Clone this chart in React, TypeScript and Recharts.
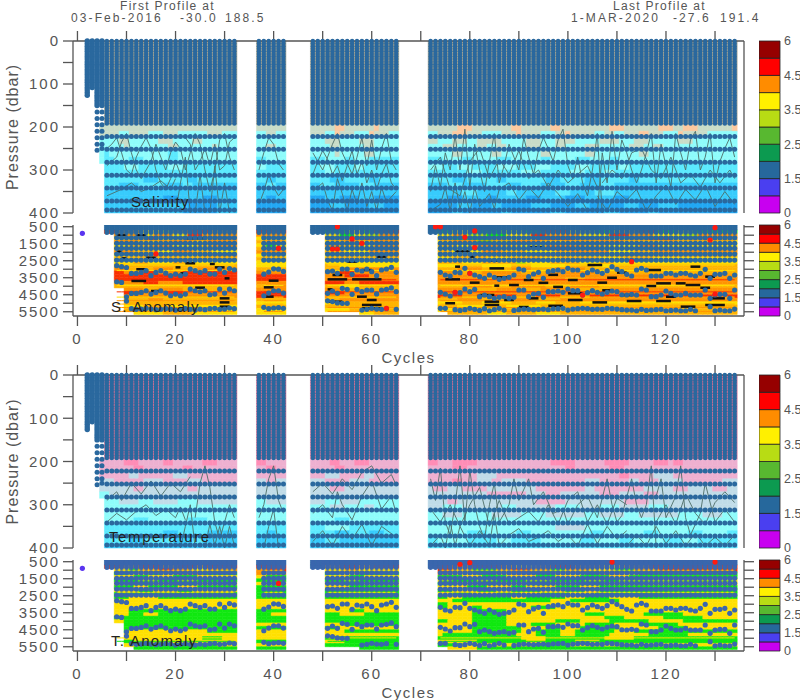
import React from 'react';
import { Bar, BarChart, Cell, ComposedChart, Line, XAxis, YAxis } from 'recharts';

const FONT = '"Liberation Sans", Arial, sans-serif';
const INK = '#555';

// profile blocks (first and last cycle of each run of profiles)
const blocks = [[5, 32], [37, 42], [48, 65], [72, 134]];
const cycles = Array.from({ length: 136 }, (_, i) => i);
const cycleTicks = [0, 10, 20, 30, 40, 50, 60, 70, 80, 90, 100, 110, 120, 130];

const shallowTicks = [0, 50, 100, 150, 200, 250, 300, 350, 400];
const deepTicks = [500, 1000, 1500, 2000, 2500, 3000, 3500, 4000, 4500, 5000, 5500];

const colorbarColors = ['#c800f0', '#4a3ff0', '#26689c', '#0c9a50', '#58b830', '#b8dc14', '#fff000', '#ff8c00', '#ff0000', '#960000'];
const colorbarLabels = ['0', '1.5', '2.5', '3.5', '4.5', '6'];

const shallowPalette: Record<string, string> = {
  u: '#9a9c8c', a: '#c9dcc8', p: '#fdc99f', c: '#8ffcfb', d: '#5ceafe', e: '#38ccfc', f: '#22a8f4',
};
const tempPalette: Record<string, string> = {
  u: '#c4688f', p: '#ff8db6', l: '#eeb0d0', q: '#c0dce8', c: '#8ffcfb', d: '#5ceafe', e: '#38ccfc', f: '#22a8f4',
};
const deepPalette: Record<string, string> = {
  b: '#2e6da4', r: '#f83000', o: '#ff9400', O: '#ffb400', y: '#ffe000', g: '#10e810', n: '#b8e000',
};

// depth bands of the gridded fields, dbar
const shallowEdges = [0, 195, 210, 225, 240, 255, 270, 285, 300, 315, 330, 345, 360, 375, 390, 400];
const deepEdges = [0, 400, 700, 900, 1100, 1300, 1500, 1700, 1900, 2100, 2300, 2500, 2700, 2900, 3100, 3300, 3500, 3700, 3900, 4100, 4300, 4500, 4700, 4900, 5100, 5300, 5500, 5660];

// one row per band, one run list per block: letter = colour class, number = cycles
const salinityRows = [
  '.1u|u|u|u',
  'a|a|a5p2a6p1a|a6p3a8p2a6p2a10p3a7p3a2p3a7p2',
  'a4c2a4c3a3c6a3c|c2a2c|a3c2p1a3c3p1a3c|c2a3p3a3c4a3p1a4c3a2p1a5c2a2c2a3p2a3c3p1a5c3',
  'c4a2c6a3c4a2c|c|c3a3c4a3c|a2c3a3c2a5c5a3c3a4c5a4c3a3c6a3c3',
  'c5a1c8a2c7a1c|c2a2c|c4a2c5a2c|c3a3c4a2c2a2c4a3c3a2c4a3c6a3c2a2c',
  'c1d1c12d2c|c|c5a1c5a2c|c5a2c6a2c8a2c7a2c9a2c',
  'c1d2c3d3c5d2c|d2c|d3c4d2c3d|d3c4d2c5d3c6d2c5d3c4d2c5',
  '.1d4c3d6c3d|c2d|d2c3d4c2d|c3d3c3d5c4d4c3d5c3d6c2d',
  '.1d|d|d3c2d|d8c3d8c4d6c3d4c2d',
  '.1d8e3d6e2d|d2e2d|d4e3d5e2d|d5e3d6e2d8e3d5e3d6e2d',
  '.1d3e4d5e4d2e|e2d2e|e2d3e5d3e|e4d3e5d4e3d4e5d3e4d3e',
  '.1e|e|e|e7d3e6d2e8d3e5d4e',
  '.1e12f3e5f3e|e2f2e|f3e3f4e3f|e4f3e5f2e6f3e5f4e6f3e',
  '.1e17f6e|f|f4e3f5e3f|f6e3f4e2f6e4f5e3f7e3f4e4f',
  '.1e16f7e|f|f|f5e2f8e2f8e3f8e3f6e2f',
];

const temperatureRows = [
  '.1u|u|u|u',
  'l5p3l5p2l6p3l|p2l|l4p2l3p3l|p2l3p5l15p5l6p5l5p3l1p2l',
  'l7p2l8p2l|l2p2l|l5p2l|l5p3l20p2l7p3l',
  'l6q2l7q3l|l|l3q3l5q2l|l10q4l25p2l5q4l',
  'q3l6q4l5q3l|q2l2q|q3l5q4l|l5p2l3q3l2q5l12q3l6q2l4q5l8q3l',
  'q7l2q9l2q|q|q4l3q|q1l3q3l5q10l10q2l10q6l3q5l3q',
  'c2q|q|q|q12l8q4l3q8l4q5l3q',
  '.1c3q4c3q5c4q|c2q|q3c3q4c|q4l2q16l6q12l5q',
  '.1c|c|c4q3c4q2c|q3c4q8c3q8c5q4c4q6c4q',
  '.1c|c|c|c3q4c6q6c5q8c3q5c3q8c5q4c',
  '.1c6d3c8d4c|c|c5d3c|c',
  '.1d|d|d3c5d|c26q6c',
  '.1d12e3d6e|d2e2d|d5e3d4e3d|c8d4c6d3c12d3c8d3c6d3c5d',
  '.1d5e3d6e4d2e|e|e3d3e|d2c6d6c3d6c8d3c5d3c6d4c3d',
  '.1e|e|e|d',
];

const sAnomalyRows = [
  '.|.|.|.',
  '.1b|b|b|b',
  '.1r3o5y4n2o3r5o|r|b3g5y3g2r|b2g3y4g6n5g3r6y5g4o5r4g4n3g',
  '.3o5y3o4y3r3o|o|.3y3g3y2n3o|.2y3o3n4g4y5r3o7y6r4o5y6n3o',
  '.3y4o3r2y5o3y2o|y|.3o4y3r3o|.2o3g4g4o3y6r8o6y5o4r5y3o',
  '.3o5y4O3o4y3o|O|.3y4o3y3o|.2y3o5g3n4o6y5O7o5y8O3y',
  '.3y3O5o4y5O3o|y2g2y|.3o3O5y2o|.2O4y3o6O4y5o8O5y6o4y',
  '.3O4y3o5O5y2O|O|.3y5O3o|.2y5O4o3y7O3r6o5y7O3o',
  '.3o4O5y3o4O4y|o|.3O4y5o|.2O3y6o4O5y6O3o8y5O4o',
  '.3y5o3O6y4o|y|.3y3O3y4o|.2y5o4O6y4o7O5y6o3O',
  '.3O|O|.3O|.2y3O7y5O6y4O8y5O6y',
  '.3y4O3y5O4y|y|.3y|.2O5y4O7n2y5O6y4O3y',
  '.3O|y|.3O3y|.2y4O5y6O4y7O6y4O',
  '.3o3O5o4O5o|O|.3O5o|.2O4o5O6o4O5o6O',
  '.3r2o4r3o5r|o|.3o3r3o|.2o5O4o8O5o10O',
  '.3r|r|.3o4r5o|.2o',
  '.3r|r|.3o|.2o8O4o6O3o5O4o',
  '.3o6r3o5r|o|.3r4o3r|.2o',
  '.3O|O2o|.3O3y4O|.2O5o6O4o7O5o6O',
  '.5o4O3o5O|o|.3o3O|.2o5O7o4O5o8O6o',
  '.5r4o5r3o|r|.3r4o|.2o',
  '.5o|r|.3o|.2r5o3r8o4r5o6r',
  '.5O5o3O|O|.3O3o|.2O4o5O6o4O6o',
  '.5O|y|.3y4O|.2y5O4y6O5y4O5y',
  '.5y4O5y|O|.3O|.2O4y6O4y7O',
  '.5O5y|y|.3y5O|.2y3O5y6O8y5O',
  '.7y6O6y|y|.10y3O|.4O8y4O6y5O',
];

const tAnomalyRows = [
  '.|.|.|.',
  '.1b|b|b|b',
  '.1r4o3r5o3r4o2r|r|b3o3r4o3r|b2r3o4r6o3y4o3r5o6y3o6r',
  '.3y3g2o4r3o4y3o|o2r|.3y4o3y|.2r3o4g5o3r4o4g3o5y5g4o5r',
  '.3g3y4g3y3o5g|o|.3g3y4g|.2o3y5g4y3o5g4y6g3o5y3g',
  '.3y4g3y5g5y|y2g|.3y5g3y|.2g5y4g5y6g4y5g6y4g',
  '.3g5y4g4y4g|g|.3g4y3g|.2y3g5y4g6y5g7y4g3y',
  '.3y3g5y4g5y|y|.3y3g5y|.2g4y5g3y7g4y6g5y',
  '.3g4y3g6y4g|g|.3y5g|.2y6g4y5g3y6g5y4g',
  '.3y5g3y5g3y|g|.3g|.2g3y5g4y3g6y5g4y3g',
  '.3g|g|.3g|.2y3g4y5g5y4g6y5g',
  '.3g3y6g|g|.3g|.2g2y3g10y3g8y4g5y6g',
  '.3y|y|.3y|.2y3g20y4g10y',
  '.3y|y|.3y|.2g2y',
  '.3y|y|.3y|.2g2y5g2y10g5y',
  '.3y3g|g|.3y5g3y|.2y7g7y',
  '.3y3g3y3g|g3y|.3g3y5g|.2y7g7y16g4y8g8y',
  '.3g|g|.3g|.2y7g7y20g4y8g8y',
  '.3y2g|g|.3g|.2g2y5g7y10g5y6g8y7g',
  '.5g|y|.3y4g|.2y7g7y5g5y6g6y5g8y',
  '.5g|g|.3g3y|.2y7g10y5g3y4g8y8g6y',
  '.5g1y16g|y|.3y4g|.2y7g10y3g5y3g8y4g',
  '.5y|y|.3y|.2y1g15y4g5y3g7y8g8y',
  '.5y16g4y|y|.3g|.2g17y5g12y6g',
  '.5g2y|g|.3y4g|.2y8g10y4g6y5g',
  '.5y3g16y|y|.3g|.2g5y15g7y',
  '.7g|g|.10g|.4y6g',
];

// dot levels of the CTD sampling, dbar
const topLevels = [0, 6, 12, 18, 24, 30, 36, 42, 48, 54, 60, 66, 72, 78, 84, 90, 96, 102, 108, 114, 120, 126, 132, 138, 144, 150, 156, 162, 168, 174, 180, 186, 192];
const lowLevels = [222, 252, 282, 312, 342, 372, 393];
const stripLevels = [450, 550, 650, 750, 850];
const midLevels = [1150, 1480, 1770, 2110, 2460];
const firstCycleDepth: Record<number, number> = { 2: 126, 3: 108, 4: 150, 5: 150 };

const deepCycles = [8, 9, 10, 11, 12, 13, 14, 15, 16, 17, 18, 19, 20, 21, 22, 23, 24, 25, 26, 27, 28, 29, 30, 31, 32,
  38, 39, 40, 41, 42,
  51, 52, 53, 54, 55, 56, 57, 58, 59, 60, 61, 62, 63, 64, 65,
  74, 75, 76, 77, 78, 79, 80, 81, 82, 83, 84, 85, 86, 87, 88, 89, 90, 91, 92, 93, 94, 95, 96, 97, 98, 99, 100, 101, 102, 103, 104, 105, 106, 107, 108, 109, 110, 111, 112, 113, 114, 115, 116, 117, 118, 119, 120, 121, 122, 123, 124, 125, 126, 127, 128, 129, 130, 131, 132, 133, 134];

const deepRow1 = [2794, 2850, 2900, 3246, 3246, 3186, 3088, 3382, 3186, 3088, 3230, 3382, 3284, 3382, 3284, 2990, 3088, 3186, 3088, 3284, 3284, 2990, 3186, 2960, 3040,
  3290, 3170, 2975, 2995, 3130,
  3144, 3105, 3242, 2987, 2987, 3301, 3046, 3105, 2987, 3144, 3379, 3046, 2987, 2889, 3183,
  3183, 3340, 3399, 3183, 3203, 2948, 3242, 3340, 3438, 3536, 3340, 3477, 3595, 3536, 3477, 3340, 2987, 3046, 3438, 3281, 3183, 3536, 3144, 3085, 3046, 3144, 2948, 3046, 3046, 3340, 3203, 3046, 3144, 3242, 3085,
  2850, 3007, 3144, 3301, 3399, 3046, 2948, 3046, 3399, 3399, 3399, 3242, 3242, 3340, 3242, 3242, 3340, 3399, 3242, 3007, 3536, 3301, 3301, 3242, 3536, 3340];
const deepRow2 = [3735, 3775, 4618, 4422, 4422, 4363, 4265, 4461, 4363, 4265, 4402, 4559, 4461, 4559, 4461, 4167, 4265, 4324, 4265, 4500, 4461, 4167, 4402, 4167, 4265,
  4559, 4402, 4265, 4265, 4402,
  4418, 4281, 4418, 4124, 4183, 4477, 4183, 4320, 4222, 4222, 4450, 4222, 4183, 4100, 4320,
  4359, 4457, 4575, 4379, 4379, 4163, 4320, 4183, 4614, 4516, 4614, 4712, 4653, 4614, 4712, 4653, 4222, 4222, 4614, 4457, 4418, 4653, 4320, 4320, 4280, 4359, 4163, 4261, 4261, 4516, 4379, 4261, 4359, 4457, 4359,
  4281, 4320, 4500, 4516, 4477, 4516, 4163, 4222, 4614, 4614, 4516, 4281, 4418, 4516, 4516, 4418, 4516, 4516, 4516, 4222, 4712, 4516, 4477, 4477, 4712, 4222];
const deepRow3 = [null, null, 4875, 5320, 5360, 5340, 5300, 5340, 5380, 5360, 5320, 5340, 5400, 5360, 5320, 5360, 5400, 5340, 5380, 5320, 5300, 5360, 5340, 5280, 5320,
  5240, 5320, 5280, 5260, 5300,
  4860, 4900, 4980, 5006, 5006, null, null, 5400, 5359, 5300, 5340, 5359, 5320, null, 5359,
  5300, 5300, null, 5380, 5420, 5380, 5300, 5360, 5420, 5320, 5440, 5380, 5300, 5400, null, 5420, 5380, 5340, 5360, 5380, 5360, 5340, 5380, 5330, 5320, 5300, 5400, 5340, 5320, 5300, 5320, 5360, 5340, 5360, 5300, 5320, 5340, 5380, 5400, 5400, 5440, 5360, 5420, 5400, 5380, 5360, 5440, 5420, 5400, 5440, 5440, 5360, 5440, null, null, 5200, 5440, 5400, 5440, 5440, 5340];

const redDots: [number, number][] = [[16, 2100], [79, 1125], [81, 750], [81, 1730], [80, 3240], [77, 4360], [103, 4520], [53, 500], [56, 1220], [58, 1478], [52, 1810], [53, 1810], [41, 1770], [63, 5300], [113, 2556], [130, 557], [129, 1282], [130, 4457], [73, 500], [74, 500]];
const tRedDots: [number, number][] = [[41, 1776], [78, 650], [80, 560], [109, 520], [130, 520]];
const lostProfile: [number, number] = [1, 890];

// thin stripes of the anomaly fields: pressure, class
const sStripes: [number, string][] = [[1330, 'o'], [2260, 'O'], [2750, 'y'], [3080, 'y'], [3620, 'r'], [3950, 'y'], [4330, 'r'], [4640, 'y'], [4850, 'o'], [5050, 'O'], [5250, 'o'], [5480, 'o']];
const tStripes: [number, string][] = [[1000, 'y'], [1640, 'g'], [2300, 'y'], [4980, 'y'], [5180, 'g']];

// black streaks in the salinity anomaly: pressure, first cycle, last cycle
const streaks = [
  [988, 8, 10], [1000, 12, 14], [2320, 14, 16], [3000, 12, 14], [3690, 11, 14], [4280, 15, 17], [2890, 20, 21], [3240, 21, 22], [4085, 24, 26], [2650, 22, 24], [2690, 27, 28], [2890, 28, 30], [3536, 30, 31], [4712, 29, 31], [4950, 29, 31], [5200, 29, 31], [5400, 13, 14], [1968, 8, 9], [2360, 9, 10], [1184, 22, 26],
  [3673, 39, 41], [4065, 38, 40], [4614, 38, 40],
  [3595, 51, 55], [3595, 56, 62], [3340, 52, 54], [3046, 58, 60], [2262, 61, 63], [2556, 55, 57], [4183, 51, 52], [4614, 57, 59], [4810, 59, 61], [4908, 51, 54], [5100, 58, 62], [5300, 58, 62],
  [2262, 80, 81], [2850, 77, 78], [2950, 84, 87], [3595, 75, 78], [3790, 80, 82], [3967, 85, 86], [3477, 85, 88], [3928, 88, 90], [3634, 91, 93], [3634, 100, 102], [3790, 106, 108], [2752, 104, 107], [4418, 100, 103], [4810, 100, 103], [4516, 82, 85], [4908, 83, 86], [5100, 83, 86], [4810, 87, 89], [4712, 92, 94],
  [3987, 116, 118], [2850, 125, 127], [3830, 118, 121], [3830, 122, 124], [3928, 124, 127], [4870, 118, 121], [4870, 112, 115], [5200, 123, 126], [4516, 111, 113], [3046, 116, 119], [3438, 128, 130], [4712, 129, 132], [5104, 128, 132],
  [3800, 94, 96], [4040, 97, 99], [3330, 96, 98], [4240, 107, 109], [4950, 105, 108], [5150, 96, 99], [3500, 108, 110], [2500, 84, 86], [1950, 77, 80], [1700, 92, 95], [3200, 110, 112], [4090, 127, 129], [5000, 75, 77], [5220, 90, 92], [4620, 120, 122],
];

// contour pieces over the upper panels, [cycle, pressure]
const salinityContours: [number, number][][] = [
  [[6, 290], [8, 270], [9, 235], [10, 215], [11, 260], [12, 300], [13, 320], [15, 280], [16, 240], [17, 270], [18, 300], [19, 260], [20, 235], [21, 250], [22, 300], [23, 260], [24, 215], [25, 240], [26, 300], [27, 350], [28, 300], [29, 230], [30, 215], [31, 270], [32, 300]],
  [[6, 360], [9, 345], [11, 330], [13, 350], [15, 340], [17, 325], [19, 345], [20, 320]],
  [[6, 250], [7, 240], [8, 225], [9, 260], [10, 300], [11, 310], [12, 270], [13, 245], [14, 225], [15, 250], [16, 300], [17, 330], [18, 345], [19, 320], [20, 280], [21, 310]],
  [[22, 225], [23, 240], [24, 300], [25, 280], [26, 250], [27, 290], [28, 240], [29, 300], [30, 290], [31, 235], [32, 225]],
  [[20, 400], [21, 330], [22, 270], [23, 400]],
  [[24, 400], [25, 310], [26, 400]],
  [[27, 400], [28, 290], [29, 400], [30, 330], [31, 400]],
  [[37, 300], [38, 260], [39, 225], [40, 240], [41, 285], [42, 300]],
  [[37, 380], [38, 350], [39, 310], [40, 340], [41, 360], [42, 345]],
  [[48, 260], [50, 300], [52, 240], [53, 215], [54, 260], [56, 310], [57, 270], [58, 225], [59, 290], [60, 230], [61, 300], [62, 250], [63, 215], [64, 280], [65, 300]],
  [[48, 310], [49, 280], [50, 255], [51, 275], [52, 310], [53, 290], [54, 325], [55, 290], [56, 255], [57, 310], [58, 280], [59, 330], [60, 300], [61, 345], [62, 310], [63, 285], [64, 330], [65, 345]],
  [[48, 350], [50, 330], [51, 370], [52, 395], [53, 320], [54, 355], [55, 395], [56, 345], [57, 380], [58, 330], [59, 385], [60, 350], [61, 395], [62, 340], [63, 375], [65, 350]],
  [[72, 350], [73, 290], [74, 340], [75, 260], [76, 300], [77, 220], [78, 300], [79, 205], [80, 340], [81, 240], [82, 300], [83, 350], [84, 280], [85, 215], [86, 330], [87, 290], [88, 240], [89, 270], [90, 300], [91, 225], [92, 270], [93, 310], [94, 255], [95, 225], [96, 250], [97, 280], [98, 230], [99, 205], [100, 290], [101, 320], [102, 270], [103, 330], [104, 360], [105, 300], [106, 215], [107, 400]],
  [[72, 300], [74, 270], [76, 345], [78, 360], [80, 280], [82, 250], [84, 320], [86, 275], [88, 310], [90, 255], [92, 320], [94, 300], [96, 340], [98, 300], [100, 330], [102, 310], [104, 290], [106, 340]],
  [[72, 395], [74, 380], [75, 340], [76, 395], [77, 330], [78, 390], [79, 350], [80, 400], [81, 340], [82, 385], [84, 355], [85, 390], [86, 345], [88, 330], [90, 370], [92, 340], [94, 365], [96, 330], [98, 355], [100, 385], [102, 355], [104, 395]],
  [[106, 400], [107, 260], [108, 330], [109, 210], [110, 300], [111, 230], [112, 260], [113, 300], [114, 330], [115, 300], [116, 260], [117, 215], [118, 330], [119, 240], [120, 290], [121, 340], [122, 215], [123, 260], [124, 300], [125, 230], [126, 210], [127, 300], [128, 270], [129, 215], [130, 330], [131, 280], [132, 250], [133, 225], [134, 270]],
  [[107, 330], [109, 300], [111, 320], [113, 260], [115, 250], [117, 300], [119, 320], [121, 270], [123, 330], [125, 310], [127, 340], [129, 300], [131, 330], [133, 300], [134, 320]],
  [[106, 360], [108, 395], [110, 350], [112, 370], [114, 345], [116, 395], [118, 360], [120, 335], [122, 380], [124, 345], [126, 370], [128, 335], [130, 385], [132, 350], [134, 380]],
];

const temperatureContours: [number, number][][] = [
  [[6, 340], [8, 320], [10, 335], [12, 315], [14, 300], [16, 325], [18, 310], [20, 330], [21, 305], [22, 335]],
  [[6, 290], [8, 270], [9, 290], [11, 250], [13, 275], [15, 245], [17, 280], [19, 250], [21, 270], [23, 235]],
  [[21, 400], [22, 350], [23, 300], [24, 400]],
  [[24, 330], [25, 250], [26, 210], [27, 260], [28, 340], [29, 380], [30, 340], [31, 300], [32, 330]],
  [[26, 400], [27, 345], [28, 395], [29, 350], [30, 400], [31, 350], [32, 395]],
  [[37, 330], [38, 300], [39, 240], [40, 210], [41, 290], [42, 320]],
  [[38, 400], [39, 350], [40, 310], [41, 400]],
  [[48, 320], [50, 300], [52, 330], [53, 270], [54, 300], [56, 335], [58, 280], [60, 245], [62, 310], [64, 280], [65, 320]],
  [[48, 270], [50, 250], [52, 275], [54, 240], [56, 265], [58, 225], [60, 210], [62, 250], [64, 230], [65, 255]],
  [[48, 385], [50, 360], [52, 395], [54, 350], [56, 380], [58, 345], [60, 395], [62, 350], [65, 375]],
  [[72, 240], [73, 290], [74, 215], [75, 340], [76, 370], [77, 300], [78, 210], [79, 340], [80, 220], [81, 300], [82, 350], [83, 380], [84, 300], [85, 250], [86, 340], [88, 300], [89, 240], [90, 290], [92, 240], [93, 300], [95, 270], [97, 320], [99, 310], [100, 345], [102, 300], [104, 280], [106, 330], [108, 240], [109, 300], [110, 340], [111, 325], [113, 240]],
  [[72, 310], [74, 340], [76, 300], [78, 350], [80, 300], [82, 260], [84, 350], [86, 290], [88, 345], [90, 330], [92, 315], [94, 340], [96, 300], [98, 345], [100, 290], [102, 270], [104, 340], [106, 300], [108, 345], [110, 285], [112, 300]],
  [[72, 395], [74, 370], [75, 400], [76, 340], [77, 395], [78, 350], [80, 395], [82, 360], [84, 395], [85, 320], [86, 395], [88, 370], [90, 355], [92, 385], [94, 375], [96, 360], [98, 385], [100, 370], [102, 395], [104, 345], [106, 390], [108, 350], [110, 380], [112, 360]],
  [[113, 240], [114, 300], [115, 330], [116, 300], [117, 210], [118, 400]],
  [[118, 280], [119, 240], [120, 330], [122, 280], [123, 210], [124, 330], [125, 370], [127, 320], [128, 250], [130, 340], [132, 310], [134, 340]],
  [[118, 340], [120, 300], [122, 345], [124, 275], [126, 320], [128, 345], [130, 295], [132, 270], [134, 295]],
  [[112, 395], [114, 370], [116, 395], [118, 350], [120, 390], [122, 360], [124, 395], [126, 365], [128, 395], [130, 375], [132, 395], [134, 370]],
];

function decodeRow(row: string) {
  const out: Record<number, string> = {};
  row.split('|').forEach((part, b) => {
    let c = blocks[b][0];
    const tokens = part.match(/[^\d]\d*/g) || [];
    tokens.forEach((t) => {
      const n = t.length > 1 ? Number(t.slice(1)) : blocks[b][1] - c + 1;
      for (let i = 0; i < n && c <= blocks[b][1]; i++) out[c++] = t[0];
    });
    // a short row keeps its last class to the end of the block
    const last = tokens.length ? tokens[tokens.length - 1][0] : '.';
    while (c <= blocks[b][1]) out[c++] = last;
  });
  return out;
}

const inProfile = (c: number) => (c >= 2 && c <= 32) || (c >= 37 && c <= 42) || (c >= 48 && c <= 65) || (c >= 72 && c <= 134);

function levelPoints(level: number, list: number[]): [number, number][] {
  return list.map((c) => [c, level] as [number, number]);
}

const profileCycles = cycles.filter(inProfile);
const stripCycles = profileCycles.filter((c) => c >= 6);
const earlyCycles = [2, 3, 4, 5];

// dots for the upper panels
const upperDots: { points: [number, number][]; r: number }[] = [
  ...topLevels.map((level) => ({ points: levelPoints(level, stripCycles), r: 2.2 })),
  ...topLevels.map((level) => ({
    points: levelPoints(level, earlyCycles.filter((c) => level <= firstCycleDepth[c])),
    r: 2.7,
  })),
  ...lowLevels.map((level) => ({ points: levelPoints(level, stripCycles), r: 2.5 })),
  ...[165, 180, 195, 210, 225, 240].map((level) => ({ points: levelPoints(level, [4, 5]), r: 2.5 })),
  { points: [[4, 254], [5, 250]] as [number, number][], r: 2.5 },
];

const deepDots: { points: [number, number][]; r: number }[] = [
  ...stripLevels.map((level) => ({ points: levelPoints(level, stripCycles), r: 2.4 })),
  ...midLevels.map((level) => ({ points: levelPoints(level, deepCycles), r: 2.6 })),
  ...[deepRow1, deepRow2, deepRow3].map((row) => ({
    points: deepCycles.map((c, i) => [c, row[i]] as [number, number]).filter((p) => p[1] != null),
    r: 2.6,
  })),
];

type PanelProps = {
  top: number;
  height: number;
  axisAt: 'top' | 'bottom';
  domain: [number, number];
  ticks: number[];
  labelled: number[];
  edges: number[];
  rows: string[];
  palette: Record<string, string>;
  contours?: [number, number][][];
  dots: { points: [number, number][]; r: number }[];
  dotColor: string;
  stripes?: [number, string][];
  streakList?: number[][];
  red?: [number, number][];
  purple?: [number, number];
  yLabel?: string;
};

function Panel(p: PanelProps) {
  const decoded = p.rows.map(decodeRow);
  const contours = p.contours || [];
  const stripes = p.stripes || [];
  const streakList = p.streakList || [];
  const red = p.red || [];
  const data = cycles.map((c) => {
    const row: Record<string, number | null> = { cycle: c };
    p.rows.forEach((_, i) => {
      row[`b${i}`] = p.edges[i + 1] - p.edges[i];
    });
    contours.forEach((pts, i) => {
      const hit = pts.find((q) => q[0] === c);
      row[`k${i}`] = hit ? hit[1] : null;
    });
    stripes.forEach((s, i) => {
      row[`t${i}`] = deepCycles.includes(c) ? s[0] : null;
    });
    streakList.forEach((s, i) => {
      row[`s${i}`] = c >= s[1] && c <= s[2] ? s[0] : null;
    });
    p.dots.forEach((d, i) => {
      const hit = d.points.find((q) => q[0] === c);
      row[`d${i}`] = hit ? hit[1] : null;
    });
    red.forEach((q, i) => {
      row[`r${i}`] = q[0] === c ? q[1] : null;
    });
    if (p.purple) row.purple = p.purple[0] === c ? p.purple[1] : null;
    return row;
  });
  const isTop = p.axisAt === 'top';
  const clipped = p.domain[0] > 0;

  return (
    <div style={{ position: 'absolute', left: 0, top: p.top }}>
      <ComposedChart
        width={800}
        height={p.height}
        data={data}
        margin={{ top: isTop ? 0 : 8, right: 0, bottom: isTop ? 8 : 0, left: 0 }}
        barCategoryGap={0}
        barGap={0}
      >
        <XAxis
          dataKey="cycle"
          orientation={p.axisAt}
          height={isTop ? 41 : 50}
          ticks={cycleTicks}
          interval={0}
          padding={{ left: 2, right: 2 }}
          tickSize={10}
          tickMargin={7}
          stroke={INK}
          strokeWidth={1.3}
          tickFormatter={(v: number) => (!isTop && v % 20 === 0 ? String(v) : '')}
          tick={{ fontSize: 15, fill: INK, fontFamily: FONT, letterSpacing: 2 }}
          label={
            isTop
              ? undefined
              : { value: 'Cycles', position: 'insideBottom', offset: 3, fontSize: 15, fill: INK, fontFamily: FONT, letterSpacing: 1.5 }
          }
        />
        <YAxis
          yAxisId="left"
          type="number"
          reversed
          width={73}
          domain={p.domain}
          allowDataOverflow={clipped}
          ticks={p.ticks}
          interval={0}
          tickSize={10}
          tickMargin={3}
          stroke={INK}
          strokeWidth={1.3}
          tickFormatter={(v: number) => (p.labelled.includes(v) ? String(v) : '')}
          tick={{ fontSize: 15, fill: INK, fontFamily: FONT, letterSpacing: 2 }}
          label={
            p.yLabel
              ? { value: p.yLabel, angle: -90, position: 'insideLeft', offset: 12, fontSize: 16, fill: INK, fontFamily: FONT, letterSpacing: 1, style: { textAnchor: 'middle' } }
              : undefined
          }
        />
        <YAxis
          yAxisId="right"
          orientation="right"
          type="number"
          reversed
          width={56}
          domain={p.domain}
          allowDataOverflow={clipped}
          ticks={p.ticks}
          interval={0}
          tickSize={10}
          stroke={INK}
          strokeWidth={1.3}
          tickFormatter={() => ''}
        />
        {p.rows.map((_, i) => (
          <Bar key={`b${i}`} yAxisId="left" dataKey={`b${i}`} stackId="heat" isAnimationActive={false}>
            {cycles.map((c) => {
              const code = decoded[i][c];
              const fill = code && code !== '.' ? p.palette[code] : 'transparent';
              return <Cell key={c} fill={fill} stroke={fill} strokeWidth={0.5} />;
            })}
          </Bar>
        ))}
        {stripes.map((s, i) => (
          <Line key={`t${i}`} yAxisId="left" dataKey={`t${i}`} dot={false} stroke={p.palette[s[1]]} strokeWidth={1} isAnimationActive={false} />
        ))}
        {contours.map((_, i) => (
          <Line key={`k${i}`} yAxisId="left" dataKey={`k${i}`} connectNulls dot={false} stroke="#4d6d68" strokeWidth={0.9} isAnimationActive={false} />
        ))}
        {streakList.map((_, i) => (
          <Line key={`s${i}`} yAxisId="left" dataKey={`s${i}`} dot={false} stroke="#111" strokeWidth={2.5} isAnimationActive={false} />
        ))}
        {p.dots.map((d, i) => (
          <Line
            key={`d${i}`}
            yAxisId="left"
            dataKey={`d${i}`}
            stroke="none"
            dot={{ r: d.r, fill: p.dotColor, stroke: 'none' }}
            activeDot={false}
            isAnimationActive={false}
          />
        ))}
        {red.map((_, i) => (
          <Line key={`r${i}`} yAxisId="left" dataKey={`r${i}`} stroke="none" dot={{ r: 2.6, fill: '#ff1a10', stroke: 'none' }} isAnimationActive={false} />
        ))}
        {p.purple && (
          <Line yAxisId="left" dataKey="purple" stroke="none" dot={{ r: 2.6, fill: '#5a35f0', stroke: 'none' }} isAnimationActive={false} />
        )}
      </ComposedChart>
    </div>
  );
}

const colorbarRow = [Object.fromEntries(colorbarColors.map((_, i) => [`seg${i}`, 1]))];
const colorbarTicks = [0, 2, 4, 6, 8, 10];

function Colorbar({ top, height }: { top: number; height: number }) {
  return (
    <div style={{ position: 'absolute', left: 759, top: top - 10 }}>
      <BarChart
        width={41}
        height={height + 20}
        data={colorbarRow}
        margin={{ top: 10, right: 0, bottom: 10, left: 0 }}
        barCategoryGap={0}
      >
        <XAxis hide />
        <YAxis
          orientation="right"
          width={20}
          type="number"
          domain={[0, 10]}
          ticks={colorbarTicks}
          interval={0}
          axisLine={false}
          tickLine={false}
          tickSize={0}
          tickMargin={4}
          tickFormatter={(v: number) => colorbarLabels[v / 2]}
          tick={{ fontSize: 12.5, fill: INK, fontFamily: FONT }}
        />
        {colorbarColors.map((c, i) => (
          <Bar key={c} dataKey={`seg${i}`} stackId="bar" fill={c} stroke="#222" strokeWidth={0.8} isAnimationActive={false} />
        ))}
      </BarChart>
    </div>
  );
}

function Note({ x, y, children, size = 12, color = INK, spacing = 1.3 }: { x: number; y: number; children: string; size?: number; color?: string; spacing?: number }) {
  return (
    <div
      style={{
        position: 'absolute',
        left: x,
        top: y,
        fontFamily: FONT,
        fontSize: size,
        color,
        letterSpacing: spacing,
        whiteSpace: 'pre',
        lineHeight: 1,
      }}
    >
      {children}
    </div>
  );
}

export default function App() {
  return (
    <div style={{ position: 'absolute', left: 0, top: 0, width: 800, height: 700, overflow: 'hidden', background: '#fff' }}>
      <Panel top={0} height={221} axisAt="top" domain={[0, 400]} ticks={shallowTicks} labelled={[0, 100, 200, 300, 400]} edges={shallowEdges} rows={salinityRows} palette={shallowPalette} contours={salinityContours} dots={upperDots} dotColor="#2a689e" yLabel="Pressure (dbar)" />
      <Panel top={217} height={149} axisAt="bottom" domain={[400, 5750]} ticks={deepTicks} labelled={[500, 1500, 2500, 3500, 4500, 5500]} edges={deepEdges} rows={sAnomalyRows} palette={deepPalette} dots={deepDots} dotColor="#2a689e" stripes={sStripes} streakList={streaks} red={redDots} purple={lostProfile} />
      <Panel top={334} height={222} axisAt="top" domain={[0, 400]} ticks={shallowTicks} labelled={[0, 100, 200, 300, 400]} edges={shallowEdges} rows={temperatureRows} palette={tempPalette} contours={temperatureContours} dots={upperDots} dotColor="#2a689e" yLabel="Pressure (dbar)" />
      <Panel top={552} height={149} axisAt="bottom" domain={[400, 5750]} ticks={deepTicks} labelled={[500, 1500, 2500, 3500, 4500, 5500]} edges={deepEdges} rows={tAnomalyRows} palette={deepPalette} dots={deepDots} dotColor="#3a66ae" stripes={tStripes} red={tRedDots} purple={lostProfile} />

      <Colorbar top={41} height={172} />
      <Colorbar top={225} height={91} />
      <Colorbar top={375} height={173} />
      <Colorbar top={560} height={91} />

      <Note x={120} y={0}>First Profile at</Note>
      <Note x={71} y={12} spacing={2.1}>03-Feb-2016</Note>
      <Note x={180} y={12} spacing={2.1}>-30.0</Note>
      <Note x={225} y={12} spacing={2.1}>188.5</Note>
      <Note x={613} y={0}>Last Profile at</Note>
      <Note x={571} y={12} spacing={2.1}>1-MAR-2020</Note>
      <Note x={673} y={12} spacing={2.1}>-27.6</Note>
      <Note x={720} y={12} spacing={2.1}>191.4</Note>

      <Note x={131} y={194} size={15} color="#222">Salinity</Note>
      <Note x={111} y={299} size={15} color="#222">S. Anomaly</Note>
      <Note x={109} y={529} size={15} color="#222" spacing={1.6}>Temperature</Note>
      <Note x={111} y={633} size={15} color="#222">T. Anomaly</Note>
    </div>
  );
}
